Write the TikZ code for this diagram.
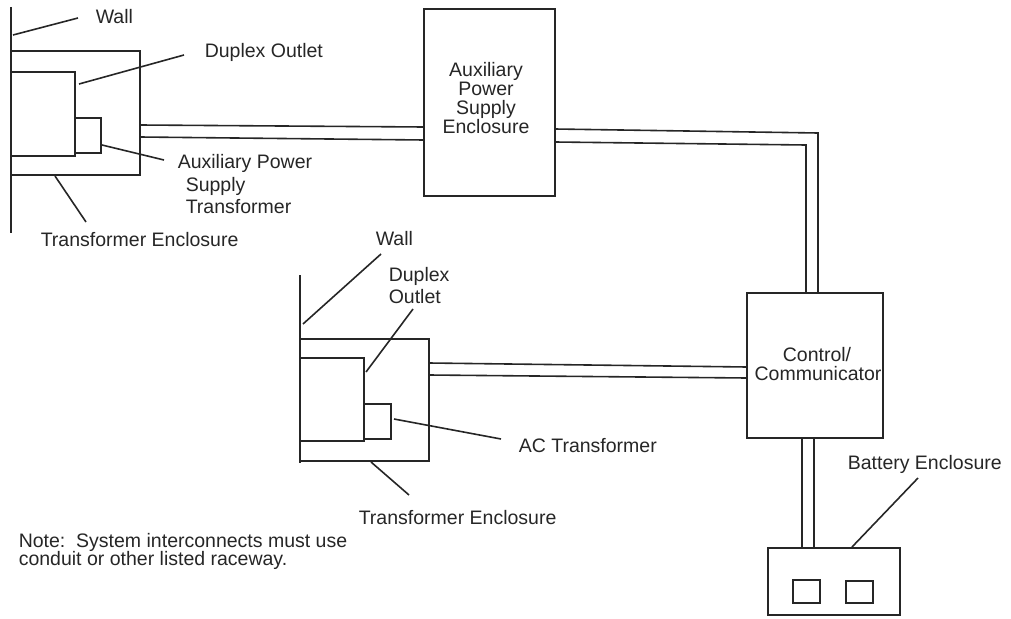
\documentclass[tikz,border=0pt]{standalone}
\usepackage{fontspec}
\setmainfont{Liberation Sans}
\begin{document}
\begin{tikzpicture}[x=1pt,y=-1pt,
  line width=1.6pt,
  line/.style={draw=black!85,line width=1.6pt},
  boxn/.style={draw=black!85,line width=1.7pt,inner sep=0pt,outer sep=0pt,anchor=north west},
  lbl/.style={font=\fontsize{19.5}{22}\selectfont,text=black!85,inner sep=0pt,anchor=base west},
  ctr/.style={font=\fontsize{19.5}{22}\selectfont,text=black!85,inner sep=0pt,anchor=base}]
\useasboundingbox (0,0) rectangle (1011,618);
% ---- boxes
\node[boxn,minimum width=129pt,minimum height=124pt] (enc1) at (11,51) {};
\node[boxn,minimum width=64pt,minimum height=84pt] (out1) at (11,72) {};
\node[boxn,minimum width=26pt,minimum height=35pt] (tr1) at (75,118) {};
\node[boxn,minimum width=131pt,minimum height=187pt] (aux) at (424,9) {};
\node[boxn,minimum width=129pt,minimum height=122pt] (enc2) at (300,339) {};
\node[boxn,minimum width=64pt,minimum height=83pt] (out2) at (300,358) {};
\node[boxn,minimum width=27pt,minimum height=35pt] (tr2) at (364,404) {};
\node[boxn,minimum width=136pt,minimum height=145pt] (ctl) at (747,293) {};
\node[boxn,minimum width=132pt,minimum height=67pt] (bat) at (768,548) {};
\node[boxn,minimum width=27pt,minimum height=23pt] (cell1) at (793,580) {};
\node[boxn,minimum width=27pt,minimum height=22pt] (cell2) at (846,581) {};
% ---- walls
\coordinate (w1t) at (11,7); \coordinate (w1b) at (11,233);
\coordinate (w2t) at (300,275); \coordinate (w2b) at (300,463);
\draw[line] (w1t) -- (w1b);
\draw[line] (w2t) -- (w2b);
% ---- raceways
\draw[line] (enc1.east |- 0,125) -- (aux.west |- 0,127);
\draw[line] (enc1.east |- 0,137) -- (aux.west |- 0,140);
\coordinate (c1) at (818,133); \coordinate (c2) at (806,145);
\draw[line] (aux.east |- 0,129) -- (c1) -- (c1 |- ctl.north);
\draw[line] (aux.east |- 0,142) -- (c2) -- (c2 |- ctl.north);
\draw[line] (enc2.east |- 0,363) -- (ctl.west |- 0,367);
\draw[line] (enc2.east |- 0,375) -- (ctl.west |- 0,378);
\coordinate (d1) at (802,438); \coordinate (d2) at (814,438);
\draw[line] (d1) -- (d1 |- bat.north);
\draw[line] (d2) -- (d2 |- bat.north);
% ---- text
\node[lbl] (twall1) at (95,24) {Wall};
\node[lbl] (tdup1) at (204,57) {Duplex Outlet};
\node[lbl] (taux1) at (177,168) {Auxiliary Power};
\node[lbl] (taux2) at (185,191) {Supply};
\node[lbl] (taux3) at (185,213) {Transformer};
\node[lbl] (tenc1) at (40,246) {Transformer Enclosure};
\node[ctr] (a1) at (486,76) {Auxiliary};
\node[ctr] (a2) at (486,95) {Power};
\node[ctr] (a3) at (486,114) {Supply};
\node[ctr] (a4) at (486,133) {Enclosure};
\node[lbl] (twall2) at (375,245) {Wall};
\node[lbl] (tdup2) at (388,281) {Duplex};
\node[lbl] (tout2) at (388,303) {Outlet};
\node[lbl] (tac) at (518,452) {AC Transformer};
\node[lbl] (tenc2) at (358,524) {Transformer Enclosure};
\node[ctr] (c1t) at (817,361) {Control/};
\node[ctr] (c2t) at (818,380) {Communicator};
\node[lbl] (tbat) at (847,469) {Battery Enclosure};
\node[lbl] (note1) at (18,547) {Note:\ \ System interconnects must use};
\node[lbl] (note2) at (18,565) {conduit or other listed raceway.};
% ---- leaders
\coordinate (l1a) at (13,35); \coordinate (l1b) at (78,18);
\draw[line] (l1a) -- (l1b);
\coordinate (l2a) at (79,84); \coordinate (l2b) at (184,55);
\draw[line] (l2a) -- (l2b);
\coordinate (l3a) at (102,145); \coordinate (l3b) at (164,160);
\draw[line] (l3a) -- (l3b);
\coordinate (l4a) at (55,176); \coordinate (l4b) at (86,222);
\draw[line] (l4a) -- (l4b);
\coordinate (l5a) at (303,324); \coordinate (l5b) at (381,254);
\draw[line] (l5a) -- (l5b);
\coordinate (l6a) at (366,372); \coordinate (l6b) at (413,309);
\draw[line] (l6a) -- (l6b);
\coordinate (l7a) at (394,419); \coordinate (l7b) at (501,439);
\draw[line] (l7a) -- (l7b);
\coordinate (l8a) at (371,462); \coordinate (l8b) at (409,495);
\draw[line] (l8a) -- (l8b);
\coordinate (l9a) at (852,547); \coordinate (l9b) at (918,478);
\draw[line] (l9a) -- (l9b);
\end{tikzpicture}
\end{document}
